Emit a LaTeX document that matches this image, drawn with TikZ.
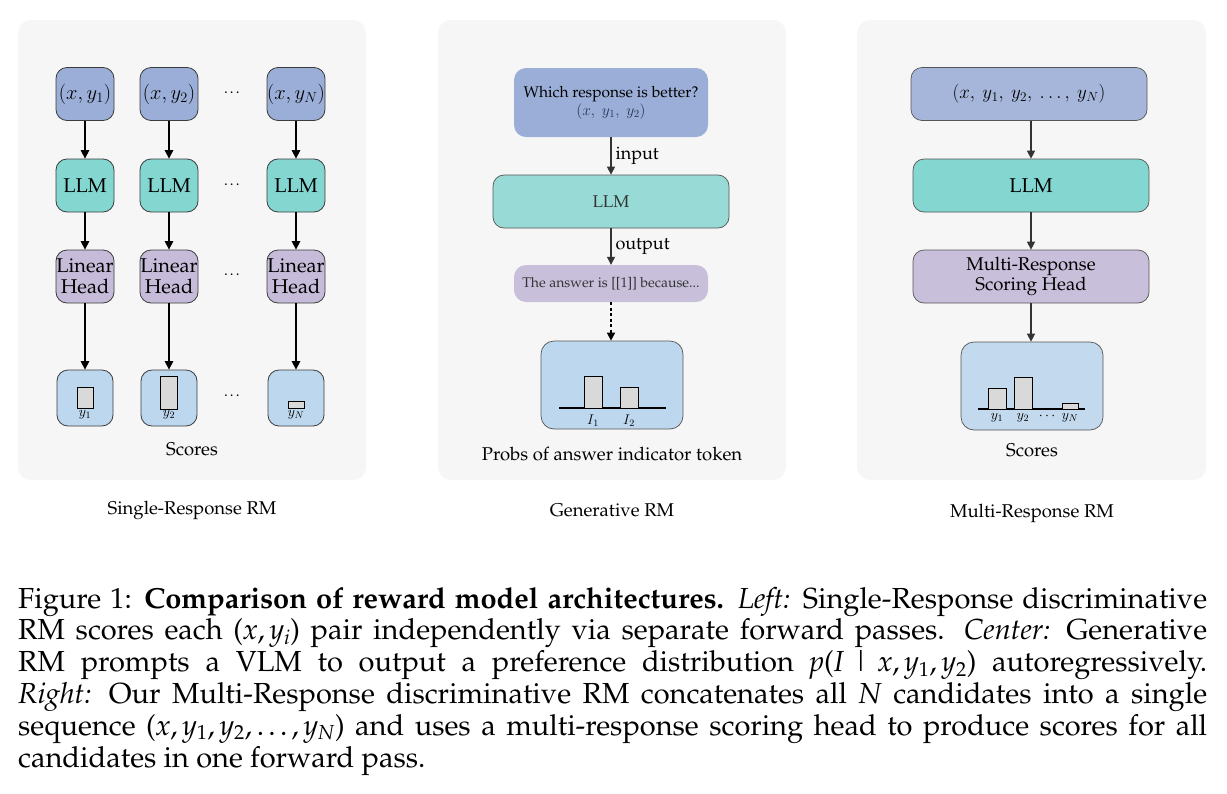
\RequirePackage{fix-cm}
\documentclass[tikz,border=0pt]{standalone}
\usepackage[T1]{fontenc}
\usepackage{palatino}
\usetikzlibrary{arrows.meta}
\definecolor{panelbg}{HTML}{F6F6F6}
\definecolor{cblue}{HTML}{9AAED8}
\definecolor{cblueR}{HTML}{A6B6DA}
\definecolor{cteal}{HTML}{84D6D0}
\definecolor{ctealC}{HTML}{98DAD6}
\definecolor{cpurp}{HTML}{C6BCD9}
\definecolor{cpurpC}{HTML}{C8BFDA}
\definecolor{cscore}{HTML}{BDD7EE}
\definecolor{cscoreR}{HTML}{C3D9EE}
\definecolor{cbar}{HTML}{D9D9D9}
\definecolor{bordL}{HTML}{3C3C3C}
\definecolor{bordR}{HTML}{555555}
\definecolor{darkg}{HTML}{333333}
\definecolor{qmath}{HTML}{2A3552}
\newcommand\fs[2]{\fontsize{#1}{#2}\selectfont}
\newcommand\mi[1]{\textit{#1}}
\tikzset{
  panel/.style={fill=panelbg, rounded corners=13pt, inner sep=0pt, minimum height=460pt},
  lbox/.style={draw=bordL, line width=0.8pt, rounded corners=11pt, inner sep=0pt,
    minimum width=58pt, minimum height=53pt, align=center},
  sbox/.style={draw=bordL, line width=0.8pt, rounded corners=11pt, inner sep=0pt,
    minimum width=56pt, minimum height=56pt, fill=cscore},
  wbox/.style={draw=bordR, line width=0.7pt, rounded corners=11pt, inner sep=0pt,
    minimum width=236pt, minimum height=53pt, align=center},
  pbox/.style={draw=bordR, line width=0.7pt, rounded corners=13pt, inner sep=0pt,
    minimum width=142pt, minimum height=88pt},
  bar/.style={fill=cbar, draw=black, line width=0.8pt},
  arrL/.style={-{Triangle[length=8.5pt,width=8.5pt]}, line width=1.3pt, black},
  arrR/.style={-{Triangle[length=8pt,width=8pt]}, line width=1.1pt, darkg},
  dotarr/.style={-{Triangle[length=8pt,width=8pt]}, line width=1.5pt, black, dash pattern=on 3pt off 2.5pt},
  ttl/.style={inner sep=0pt, font=\fs{18.5}{20}},
}
\begin{document}
\begin{tikzpicture}[x=1pt,y=-1pt]
\useasboundingbox[fill=white] (0,0) rectangle (1227,793);
% panels
\node[panel, minimum width=348pt] (P1) at (192,250) {};
\node[panel, minimum width=348pt] (P2) at (612,250) {};
\node[panel, minimum width=349pt] (P3) at (1031.5,250) {};

% ---------------- Left panel ----------------
\foreach \c/\xx/\lab in {a/85/1, b/169/2, c/296/N}{
  \node[lbox, fill=cblue, font=\fs{20.5}{24}] (T\c) at (\xx,94) {$(x, y_{\lab})$};
  \node[lbox, fill=cteal, font=\fs{20}{20}] (M\c) at (\xx,185.5) {LLM};
  \node[lbox, fill=cpurp, font=\fs{20}{20.5}] (H\c) at (\xx,276.5) {Linear\\Head};
  \node[sbox] (S\c) at (\xx,398) {};
  \draw[arrL] (T\c) -- (M\c);
  \draw[arrL] (M\c) -- (H\c);
  \draw[arrL] (H\c) -- (S\c);
}
\foreach \yy [count=\i] in {93,185,275,396}{
  \node[inner sep=0pt, font=\fs{15}{15}] (dl\i) at (233,\yy) {\dots};
}
\draw[bar] (77,408) rectangle (93,387);
\draw[bar] (160,409) rectangle (177,376);
\draw[bar] (288,408) rectangle (304,401);
\node[inner sep=0pt, font=\fs{14}{14}] (ly1) at (85,415) {$y_1$};
\node[inner sep=0pt, font=\fs{14}{14}] (ly2) at (169,415) {$y_2$};
\node[inner sep=0pt, font=\fs{14}{14}] (lyN) at (296,415) {$y_N$};
\node[ttl] (lsc) at (192,449) {Scores};
\node[ttl] (lt) at (192,510) {Single-Response RM};

% ---------------- Center panel ----------------
\node[fill=cblue, rounded corners=12pt, inner sep=0pt, minimum width=194pt, minimum height=69pt, align=center, font=\fs{15.5}{19}] (Q) at (611,102.5)
  {Which response is better?\\[-1pt]{\color{qmath}$(x,\;y_1,\;y_2)$}};
\node[wbox, fill=ctealC, draw=bordR, text=darkg, font=\fs{17}{17}] (CL) at (611,201.5) {LLM};
\node[fill=cpurpC, rounded corners=12pt, inner sep=0pt, minimum width=194pt, minimum height=37pt, text=darkg, font=\fs{14}{14}] (A) at (611,283.5)
  {The answer is [[1]] because...};
\node[pbox, fill=cscore] (PB) at (612,385) {};
\draw[arrR] (Q) -- (CL) node[midway, right=4pt, inner sep=0pt, text=black, font=\fs{18}{18}] (inp) {input};
\draw[arrR] (CL) -- (A) node[midway, right=4pt, inner sep=0pt, text=black, font=\fs{18}{18}] (outp) {output};
\draw[dotarr] (A.south) -- (A.south |- PB.north);
\draw[line width=1.3pt] (559,408) -- (666,408);
\draw[bar] (584,408) rectangle (602,376);
\draw[bar] (620,408) rectangle (638,387);
\node[inner sep=0pt, font=\fs{14}{14}] (i1) at (593,421) {$I_1$};
\node[inner sep=0pt, font=\fs{14}{14}] (i2) at (629,421) {$I_2$};
\node[ttl] (cpr) at (612,454) {Probs of answer indicator token};
\node[ttl] (ct) at (612,510) {Generative RM};

% ---------------- Right panel ----------------
\node[wbox, fill=cblueR, font=\fs{19}{22}] (RT) at (1029,94) {$(x,\:y_1,\:y_2,\:\ldots,\:y_N)$};
\node[wbox, fill=cteal, font=\fs{20}{20}] (RL) at (1031,185.5) {LLM};
\node[wbox, fill=cpurpC, font=\fs{18.5}{20}] (RH) at (1031,276.5) {Multi-Response\\Scoring Head};
\node[pbox, fill=cscoreR] (RS) at (1032,386) {};
\draw[arrR] (RT.south -| RL.north) -- (RL);
\draw[arrR] (RL) -- (RH);
\draw[arrR] (RH.south) -- (RH.south |- RS.north);
\draw[line width=1.3pt] (978,409) -- (1085,409);
\draw[bar] (988,409) rectangle (1006,388);
\draw[bar] (1014,409) rectangle (1032,377);
\draw[bar] (1062,409) rectangle (1078,403);
\node[inner sep=0pt, font=\fs{14}{14}] (r1) at (997,418) {$y_1$};
\node[inner sep=0pt, font=\fs{14}{14}] (r2) at (1023,418) {$y_2$};
\node[inner sep=0pt, font=\fs{14}{14}] (rd) at (1047,416) {$\cdots$};
\node[inner sep=0pt, font=\fs{14}{14}] (rN) at (1070,418) {$y_N$};
\node[ttl] (rsc) at (1032,450) {Scores};
\node[ttl] (rt) at (1032,513) {Multi-Response RM};

% ---------------- Caption ----------------
\node[anchor=north west, inner sep=0pt, text width=1189pt, align=justify, font=\fs{29}{31.8}] (cap) at (18,587) {%
Figure 1: \textbf{Comparison of reward model architectures.} \textit{Left:} Single-Response discriminative\linebreak
RM scores each (\mi{x},\,\mi{y}\textsubscript{\mi{i}}) pair independently via separate forward passes. \textit{Center:} Generative\linebreak
RM prompts a VLM to output a preference distribution \mi{p}(\mi{I}\;|\;\mi{x},\,\mi{y}\textsubscript{1},\,\mi{y}\textsubscript{2}) autoregressively.\linebreak
\textit{Right:} Our Multi-Response discriminative RM concatenates all \mi{N} candidates into a single\linebreak
sequence (\mi{x},\,\mi{y}\textsubscript{1},\,\mi{y}\textsubscript{2},\,\ldots,\,\mi{y}\textsubscript{\mi{N}}) and uses a multi-response scoring head to produce scores for all\linebreak
candidates in one forward pass.};
\end{tikzpicture}
\end{document}
